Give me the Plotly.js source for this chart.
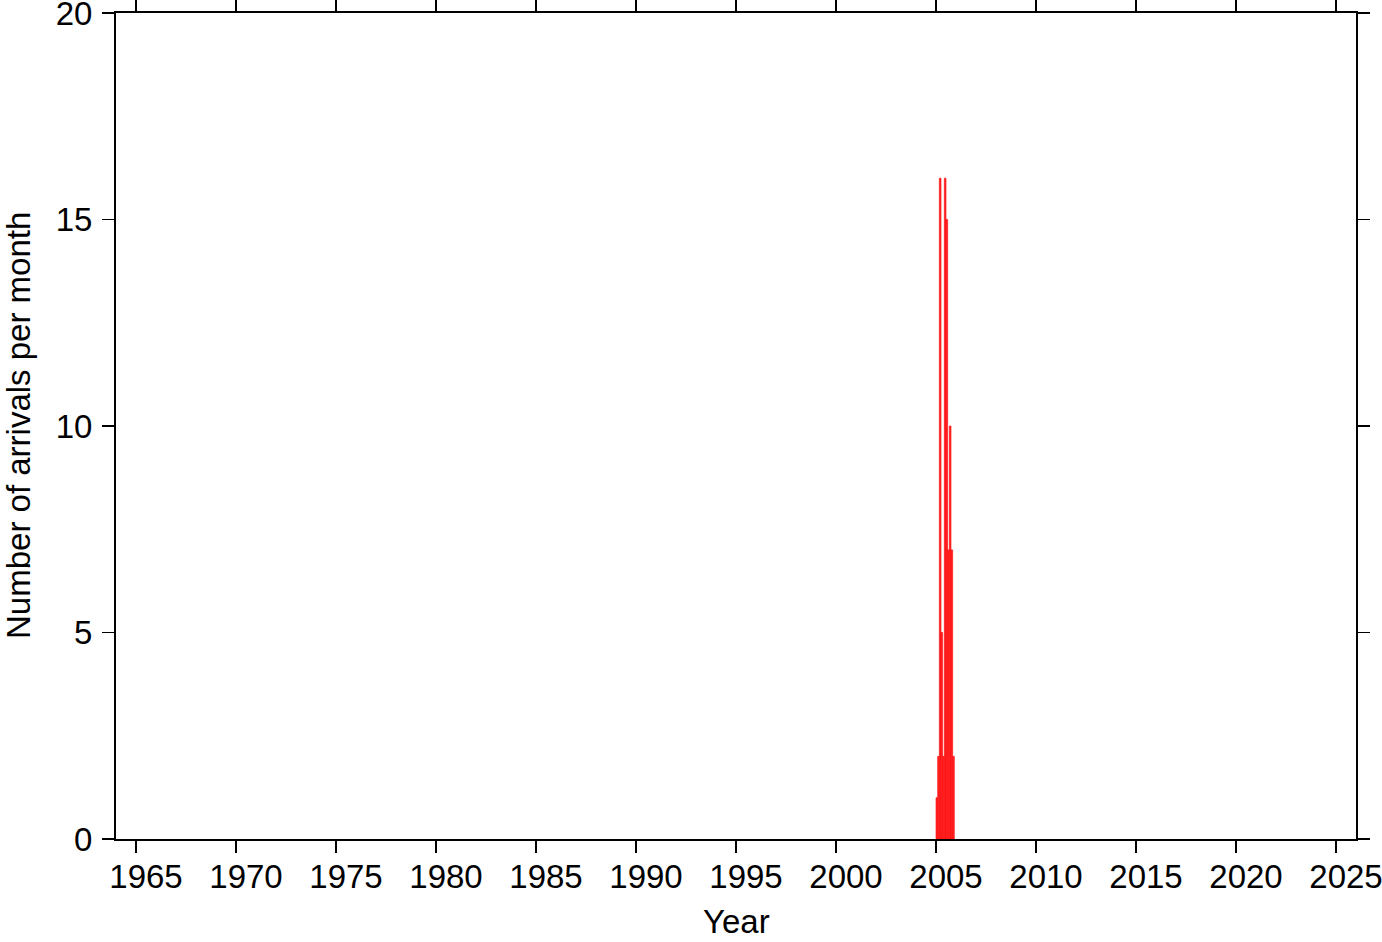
<!DOCTYPE html>
<html>
<head>
<meta charset="utf-8">
<script src="https://cdn.plot.ly/plotly-3.0.1.min.js"></script>
<style>html,body{margin:0;padding:0;background:#fff;}#chart{width:1382px;height:942px;}</style>
</head>
<body>
<div id="chart"></div>
<script>
// Monthly arrival counts (year 2005, months 1..11)
const years = [2005, 2005, 2005, 2005, 2005, 2005, 2005, 2005, 2005, 2005, 2005];
const months = [1, 2, 3, 4, 5, 6, 7, 8, 9, 10, 11];
const counts = [1, 2, 16, 5, 2, 16, 15, 7, 10, 7, 2];
const xTickVals = [1965, 1970, 1975, 1980, 1985, 1990, 1995, 2000, 2005, 2010, 2015, 2020, 2025];
const yTickVals = [0, 5, 10, 15, 20];
const xTitle = 'Year';
const yTitle = 'Number of arrivals per month';

const xMid = years.map((y, i) => y + (months[i] - 0.5) / 12);

const font = {family: '"Liberation Sans", Arial, Helvetica, sans-serif', size: 33, color: '#000'};

const trace = {
  type: 'bar',
  x: xMid,
  y: counts,
  width: 1 / 12,
  marker: {color: 'rgb(255,45,45)', line: {color: 'rgb(255,0,0)', width: 0.6}},
  hoverinfo: 'x+y'
};

const axisCommon = {
  showline: true, linecolor: '#000', linewidth: 2, mirror: 'allticks',
  ticks: 'outside', ticklen: 12, tickwidth: 1.3, tickcolor: '#000',
  showgrid: false, zeroline: false, tickfont: font, ticklabeloverflow: 'allow'
};

const layout = {
  width: 1382, height: 942,
  margin: {l: 116, r: 26, t: 13, b: 103},
  paper_bgcolor: '#fff', plot_bgcolor: '#fff',
  font: font,
  showlegend: false,
  bargap: 0,
  xaxis: Object.assign({}, axisCommon, {
    range: [1964, 2026], tickmode: 'array', tickvals: xTickVals,
    ticklabelshift: 10, ticklabelstandoff: -5
  }),
  yaxis: Object.assign({}, axisCommon, {
    range: [0, 20], tickmode: 'array', tickvals: yTickVals,
    ticklabelstandoff: 3
  }),
  annotations: [
    {text: xTitle, xref: 'paper', yref: 'paper', x: 0.5, y: 0, yshift: -82,
     xanchor: 'center', yanchor: 'middle', showarrow: false, font: font},
    {text: yTitle, xref: 'paper', yref: 'paper', x: 0, y: 0.5, xshift: -98,
     xanchor: 'center', yanchor: 'middle', textangle: -90, showarrow: false, font: font}
  ]
};

Plotly.newPlot('chart', [trace], layout, {displayModeBar: false, staticPlot: true});
</script>
</body>
</html>
